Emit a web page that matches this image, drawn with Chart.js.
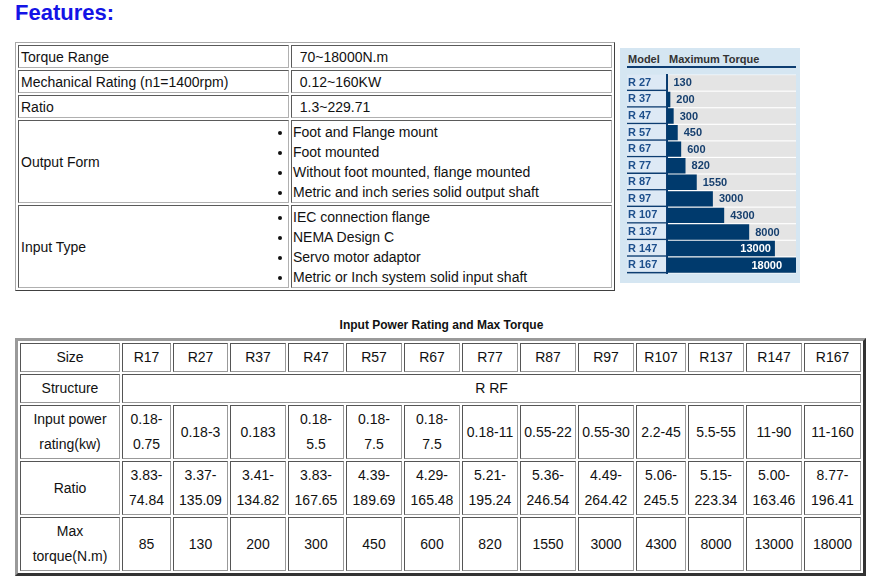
<!DOCTYPE html>
<html>
<head>
<meta charset="utf-8">
<script src="https://cdn.jsdelivr.net/npm/chart.js@4.4.0/dist/chart.umd.min.js"></script>
<style>
  html, body { margin: 0; padding: 0; background: #ffffff; }
  body { position: relative; width: 884px; height: 584px; overflow: hidden;
         font-family: "Liberation Sans", Arial, sans-serif; }
  h1 { position: absolute; left: 15px; top: 0px; margin: 0; font-size: 22px; line-height: 26px;
       font-weight: bold; color: #1414e6; }
  table td { box-sizing: border-box; }
  #t1 { position: absolute; left: 15px; top: 42px; width: 600px; table-layout: fixed;
        border-collapse: separate; border-spacing: 2px; border: 1px solid;
        border-color: #a8a8a8 #404040 #404040 #a8a8a8;
        font-size: 14px; color: #111; }
  #t1 td { border: 1px solid; border-color: #5a5a5a #b0b0b0 #b0b0b0 #5a5a5a;
           padding: 0 2px; line-height: 20px; vertical-align: middle; }
  #t1 td.v { padding-left: 0; }
  #t1 td.l { padding-left: 1px; }
  #t1 ul { margin: 0; padding: 0; list-style: disc outside; }
  #t1 li { line-height: 20px; }
  #title2 { position: absolute; left: 16px; top: 318px; width: 851px; text-align: center;
            font-size: 12px; line-height: 14px; font-weight: bold; color: #111; }
  #t2 { position: absolute; left: 15px; top: 338px; width: 850px; table-layout: fixed;
        border-collapse: separate; border-spacing: 2px; border: 3px solid;
        border-color: #9a9a9a #333333 #333333 #9a9a9a;
        font-size: 14px; color: #111; }
  #t2 td { border: 1px solid; border-color: #555 #999 #999 #555; padding: 1px;
           line-height: 25px; text-align: center; vertical-align: middle; }
  #panel { position: absolute; left: 620px; top: 48px; width: 180px; height: 235px; background: #d5e6f2; }
  #panel .hd { position: absolute; top: 4px; font-size: 11px; line-height: 14px; font-weight: bold; color: #333; }
  #panel .rule { position: absolute; left: 7px; top: 18px; width: 169px; height: 2px; background: #0d3d71; }
  #chartBox { position: absolute; left: 0px; top: 20px; width: 180px; height: 212px; }
</style>
</head>
<body>
<h1>Features:</h1>

<table id="t1">
  <tr style="height:23px"><td style="width:271px">Torque Range</td><td class="v">&nbsp;&nbsp;70~18000N.m</td></tr>
  <tr style="height:23px"><td>Mechanical Rating (n1=1400rpm)</td><td class="v">&nbsp;&nbsp;0.12~160KW</td></tr>
  <tr style="height:23px"><td>Ratio</td><td class="v">&nbsp;&nbsp;1.3~229.71</td></tr>
  <tr style="height:83px"><td>Output Form</td><td class="l"><ul>
    <li>Foot and Flange mount</li>
    <li>Foot mounted</li>
    <li>Without foot mounted, flange mounted</li>
    <li>Metric and inch series solid output shaft</li>
  </ul></td></tr>
  <tr style="height:83px"><td>Input Type</td><td class="l"><ul>
    <li>IEC connection flange</li>
    <li>NEMA Design C</li>
    <li>Servo motor adaptor</li>
    <li>Metric or Inch system solid input shaft</li>
  </ul></td></tr>
</table>

<div id="panel">
  <span class="hd" style="left:8px">Model</span>
  <span class="hd" style="left:49px">Maximum Torque</span>
  <div class="rule"></div>
  <div id="chartBox"><canvas id="c" width="180" height="212"></canvas></div>
</div>

<div id="title2">Input Power Rating and Max Torque</div>

<table id="t2">
  <tr>
    <td style="width:100px">Size</td><td style="width:49px">R17</td><td style="width:55px">R27</td>
    <td style="width:56px">R37</td><td style="width:56px">R47</td><td style="width:56px">R57</td>
    <td style="width:56px">R67</td><td style="width:56px">R77</td><td style="width:56px">R87</td>
    <td style="width:56px">R97</td><td style="width:50px">R107</td><td style="width:56px">R137</td>
    <td style="width:56px">R147</td><td style="width:57px">R167</td>
  </tr>
  <tr><td>Structure</td><td colspan="13">R RF</td></tr>
  <tr>
    <td>Input power<br>rating(kw)</td><td>0.18-<br>0.75</td><td>0.18-3</td><td>0.183</td>
    <td>0.18-<br>5.5</td><td>0.18-<br>7.5</td><td>0.18-<br>7.5</td><td>0.18-11</td>
    <td>0.55-22</td><td>0.55-30</td><td>2.2-45</td><td>5.5-55</td><td>11-90</td><td>11-160</td>
  </tr>
  <tr>
    <td>Ratio</td><td>3.83-<br>74.84</td><td>3.37-<br>135.09</td><td>3.41-<br>134.82</td>
    <td>3.83-<br>167.65</td><td>4.39-<br>189.69</td><td>4.29-<br>165.48</td><td>5.21-<br>195.24</td>
    <td>5.36-<br>246.54</td><td>4.49-<br>264.42</td><td>5.06-<br>245.5</td><td>5.15-<br>223.34</td>
    <td>5.00-<br>163.46</td><td>8.77-<br>196.41</td>
  </tr>
  <tr>
    <td>Max<br>torque(N.m)</td><td>85</td><td>130</td><td>200</td><td>300</td><td>450</td><td>600</td>
    <td>820</td><td>1550</td><td>3000</td><td>4300</td><td>8000</td><td>13000</td><td>18000</td>
  </tr>
</table>

<script>
// ---- chart data ----
const models = ['R 27', 'R 37', 'R 47', 'R 57', 'R 67', 'R 77', 'R 87', 'R 97', 'R 107', 'R 137', 'R 147', 'R 167'];
const maxTorque = [130, 200, 300, 450, 600, 820, 1550, 3000, 4300, 8000, 13000, 18000];
const axisMin = 120;
const axisMax = 18000;

// square-root value scale (the reference bars grow roughly with the square root of the value)
class SqrtScale extends Chart.LinearScale {
  static id = 'sqrt';
  static defaults = {};
  getPixelForValue(value) {
    const a = Math.sqrt(this.min), b = Math.sqrt(this.max);
    const v = Math.sqrt(Math.max(Math.min(value, this.max), this.min));
    return this.getPixelForDecimal((v - a) / (b - a));
  }
  getValueForPixel(pixel) {
    const a = Math.sqrt(this.min), b = Math.sqrt(this.max);
    const r = a + this.getDecimalForPixel(pixel) * (b - a);
    return r * r;
  }
}
Chart.register(SqrtScale);

const FONT = '"Liberation Sans", Arial, sans-serif';
const BAR_PCT = 0.93;

const panelPlugin = {
  id: 'panelPlugin',
  beforeDraw(chart) {
    const { ctx, chartArea: ca } = chart;
    const y = chart.scales.y;
    const rowH = (ca.bottom - ca.top) / models.length;
    const x0 = y.left - 1;
    ctx.save();
    ctx.fillStyle = '#ffffff';
    ctx.fillRect(ca.left, ca.top, ca.right - ca.left, ca.bottom - ca.top);
    models.forEach((m, i) => {
      const yc = y.getPixelForValue(i);
      ctx.fillStyle = '#dde9f5';
      ctx.fillRect(x0, yc - rowH / 2, ca.left - x0, rowH);
      ctx.fillStyle = '#0d3d71';
      ctx.fillRect(x0, yc + rowH / 2 - 1.5, ca.left - x0, 1.5);
      const th = rowH * BAR_PCT;
      ctx.fillStyle = '#e4e4e4';
      ctx.fillRect(ca.left, yc - th / 2, ca.right - ca.left, th);
    });
    ctx.restore();
  },
  afterDatasetsDraw(chart) {
    const { ctx, chartArea: ca } = chart;
    const meta = chart.getDatasetMeta(0);
    ctx.save();
    ctx.font = 'bold 11px ' + FONT;
    ctx.textBaseline = 'middle';
    meta.data.forEach((el, i) => {
      const txt = String(maxTorque[i]);
      const w = ctx.measureText(txt).width;
      if (el.x + 6 + w <= ca.right - 2) {
        ctx.fillStyle = '#163f6e';
        ctx.textAlign = 'left';
        ctx.fillText(txt, el.x + 6, el.y + 0.5);
      } else {
        ctx.fillStyle = '#ffffff';
        ctx.textAlign = 'right';
        ctx.fillText(txt, Math.min(el.x - 4, ca.right - 14), el.y + 0.5);
      }
    });
    ctx.restore();
  }
};

new Chart(document.getElementById('c'), {
  type: 'bar',
  data: {
    labels: models,
    datasets: [{
      label: 'Maximum Torque',
      data: maxTorque,
      backgroundColor: '#003a6d',
      borderWidth: 0,
      barPercentage: BAR_PCT,
      categoryPercentage: 1
    }]
  },
  options: {
    indexAxis: 'y',
    responsive: false,
    animation: false,
    devicePixelRatio: 1,
    layout: { padding: { left: 8, right: 4, top: 0, bottom: 0 } },
    plugins: { legend: { display: false }, tooltip: { enabled: false } },
    scales: {
      x: { type: 'sqrt', min: axisMin, max: axisMax, display: false },
      y: {
        grid: { display: false },
        border: { display: true, color: '#0d3d71', width: 2 },
        ticks: { crossAlign: 'far', padding: 0, color: '#1d4f8c',
                 font: { family: FONT, size: 11, weight: 'bold' } },
        afterFit(scale) { scale.width = 39; }
      }
    }
  },
  plugins: [panelPlugin]
});
</script>
</body>
</html>
